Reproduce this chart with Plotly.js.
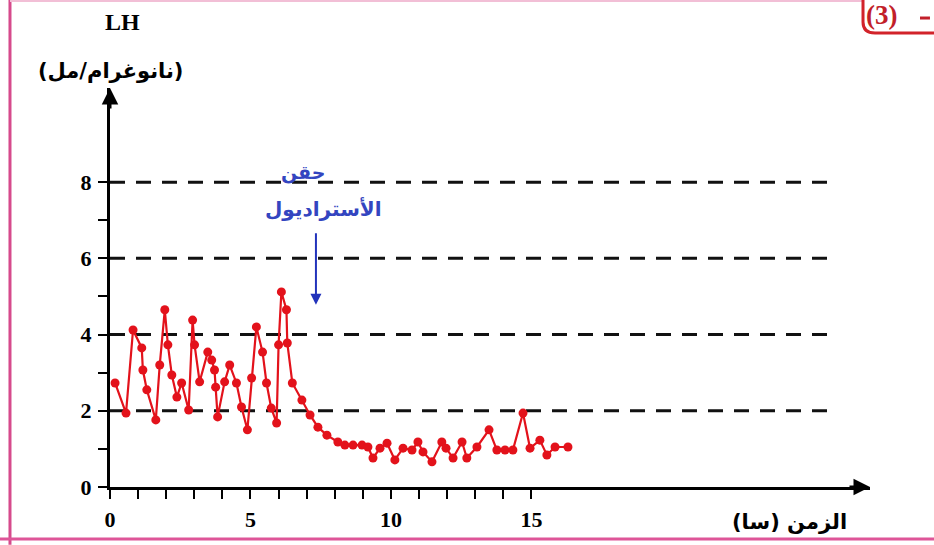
<!DOCTYPE html>
<html>
<head>
<meta charset="utf-8">
<script src="https://cdn.plot.ly/plotly-3.0.1.min.js"></script>
<style>
  html, body { margin: 0; padding: 0; background: #ffffff; }
  #chart { width: 934px; height: 545px; }
</style>
</head>
<body>
<div id="chart"></div>
<script>
// LH concentration (ng/mL) over time (hours)
const timeHours = [
  0.18, 0.57, 0.82, 1.13, 1.17, 1.31, 1.63, 1.77, 1.95, 2.06,
  2.20, 2.38, 2.55, 2.80, 2.94, 3.01, 3.19, 3.48, 3.62, 3.72,
  3.76, 3.83, 4.08, 4.26, 4.50, 4.68, 4.89, 5.04, 5.21, 5.43,
  5.57, 5.74, 5.93, 6.00, 6.10, 6.28, 6.31, 6.49,
  6.83, 7.12, 7.40, 7.72, 8.11, 8.36, 8.65, 8.97, 9.18, 9.36,
  9.61, 9.86, 10.14, 10.43, 10.75, 10.96, 11.14, 11.46, 11.81, 11.96,
  12.21, 12.53, 12.70, 13.06, 13.49, 13.77, 14.06, 14.34, 14.70, 14.95,
  15.30, 15.55, 15.84, 16.30
];
const lhValues = [
  2.73, 1.94, 4.12, 3.65, 3.07, 2.55, 1.76, 3.20, 4.65, 3.73,
  2.94, 2.36, 2.73, 2.02, 4.38, 3.73, 2.76, 3.54, 3.33, 3.07,
  2.62, 1.84, 2.76, 3.20, 2.73, 2.10, 1.50, 2.86, 4.20, 3.54,
  2.73, 2.07, 1.68, 3.73, 5.12, 4.65, 3.78, 2.73,
  2.28, 1.89, 1.57, 1.36, 1.18, 1.10, 1.10, 1.10, 1.05, 0.76,
  1.02, 1.15, 0.71, 1.02, 0.97, 1.18, 0.92, 0.66, 1.18, 1.02,
  0.76, 1.18, 0.76, 1.05, 1.50, 0.97, 0.97, 0.97, 1.94, 1.02,
  1.23, 0.84, 1.05, 1.05
];

// Axis ticks and labels
const xTickVals = [0,1,2,3,4,5,6,7,8,9,10,11,12,13,14,15];
const xTickText = ['0','','','','','5','','','','','10','','','','','15'];
const yTickVals = [0,1,2,3,4,5,6,7,8];
const yTickText = ['0','','2','','4','','6','','8'];
const refLevels = [2, 4, 6, 8];

// Estradiol injection marker
const injectionTime = 7.33;
const injectionArrowTip = 4.78;

const serifBold = {family: 'Liberation Serif, Times New Roman, serif', size: 22, color: '#000', weight: 'bold'};
const arabicBold = (size, color) => ({family: 'DejaVu Sans, sans-serif', size: size, color: color, weight: 'bold'});

const xMax = 27.05, yMax = 10.47;

const shapes = refLevels.map(v => ({
  type: 'line', xref: 'x', yref: 'y',
  x0: 0, x1: 25.6, y0: v, y1: v,
  line: {color: '#111', width: 3, dash: '15px,11px'},
  layer: 'below'
}));

// Page frame and section badge outline
shapes.push(
  {type: 'line', xref: 'paper', yref: 'paper', x0: -0.1316, x1: -0.1316, y0: -0.145, y1: 1.225,
   line: {color: '#d64a8c', width: 3}},
  {type: 'line', xref: 'paper', yref: 'paper', x0: -0.145, x1: 1.09, y0: -0.1303, y1: -0.1303,
   line: {color: '#de5598', width: 3}},
  {type: 'line', xref: 'paper', yref: 'paper', x0: -0.1316, x1: 0.99, y0: 1.218, y1: 1.218,
   line: {color: '#f2bfd6', width: 2}},
  {type: 'path', xref: 'paper', yref: 'paper',
   path: 'M 0.9908,1.233 L 0.9908,1.1654 Q 0.9908,1.1378 1.0066,1.1378 L 1.0921,1.1378',
   line: {color: '#d2232a', width: 3}},
  {type: 'line', xref: 'paper', yref: 'paper', x0: 1.0658, x1: 1.0789, y0: 1.1754, y1: 1.1754,
   line: {color: '#c21f2a', width: 3}}
);

const centered = {xanchor: 'center', yanchor: 'middle', showarrow: false};

const annotations = [
  // axis arrowheads
  {xref: 'paper', yref: 'paper', x: 1.0, y: 0, ax: -22, ay: 0, text: '', showarrow: true,
   arrowhead: 2, arrowsize: 1.1, arrowwidth: 3, arrowcolor: '#000'},
  {xref: 'paper', yref: 'paper', x: 0, y: 1.0, ax: 0, ay: 22, text: '', showarrow: true,
   arrowhead: 2, arrowsize: 1.1, arrowwidth: 3, arrowcolor: '#000'},
  // axis titles
  Object.assign({xref: 'paper', yref: 'paper', x: 0.0158, y: 1.165, text: 'LH',
   font: {family: 'Liberation Serif, serif', size: 24, color: '#000', weight: 'bold'}}, centered),
  Object.assign({xref: 'paper', yref: 'paper', x: 0.0, y: 1.0426, text: '(نانوغرام/مل)',
   font: arabicBold(21, '#000')}, centered),
  Object.assign({xref: 'paper', yref: 'paper', x: 0.8947, y: -0.0877, text: 'الزمن (سا)',
   font: arabicBold(21, '#000')}, centered),
  // injection label and arrow
  Object.assign({xref: 'paper', yref: 'paper', x: 0.2540, y: 0.789, text: 'حقن',
   font: arabicBold(19, '#3345c0')}, centered),
  Object.assign({xref: 'paper', yref: 'paper', x: 0.2803, y: 0.699, text: 'الأستراديول',
   font: arabicBold(20, '#3345c0')}, centered),
  {xref: 'x', yref: 'y', x: injectionTime, y: injectionArrowTip, ax: 0, ay: -73, text: '',
   showarrow: true, arrowhead: 2, arrowsize: 1.1, arrowwidth: 2, arrowcolor: '#2233bb'},
  // section badge
  Object.assign({xref: 'paper', yref: 'paper', x: 1.0145, y: 1.183, text: '(3)',
   font: {family: 'Liberation Serif, serif', size: 27, color: '#c21f2a', weight: 'bold'}}, centered)
];

const trace = {
  x: timeHours, y: lhValues, type: 'scatter', mode: 'lines+markers',
  line: {color: '#e3121b', width: 2.2},
  marker: {color: '#e3121b', size: 9},
  hoverinfo: 'skip'
};

const layout = {
  width: 934, height: 545,
  margin: {l: 110, r: 64, t: 88, b: 58},
  paper_bgcolor: '#ffffff', plot_bgcolor: '#ffffff',
  showlegend: false,
  xaxis: {
    range: [0, xMax], fixedrange: true, showgrid: false, zeroline: false,
    showline: true, linewidth: 3, linecolor: '#000',
    ticks: 'outside', ticklen: 9, tickwidth: 2, tickcolor: '#000',
    tickmode: 'array', tickvals: xTickVals, ticktext: xTickText,
    tickfont: serifBold, ticklabelstandoff: 2
  },
  yaxis: {
    range: [0, yMax], fixedrange: true, showgrid: false, zeroline: false,
    showline: true, linewidth: 3, linecolor: '#000',
    ticks: 'outside', ticklen: 9, tickwidth: 2, tickcolor: '#000',
    tickmode: 'array', tickvals: yTickVals, ticktext: yTickText,
    tickfont: serifBold, ticklabelstandoff: 2
  },
  shapes: shapes,
  annotations: annotations
};

Plotly.newPlot('chart', [trace], layout, {displayModeBar: false, staticPlot: true});
</script>
</body>
</html>
